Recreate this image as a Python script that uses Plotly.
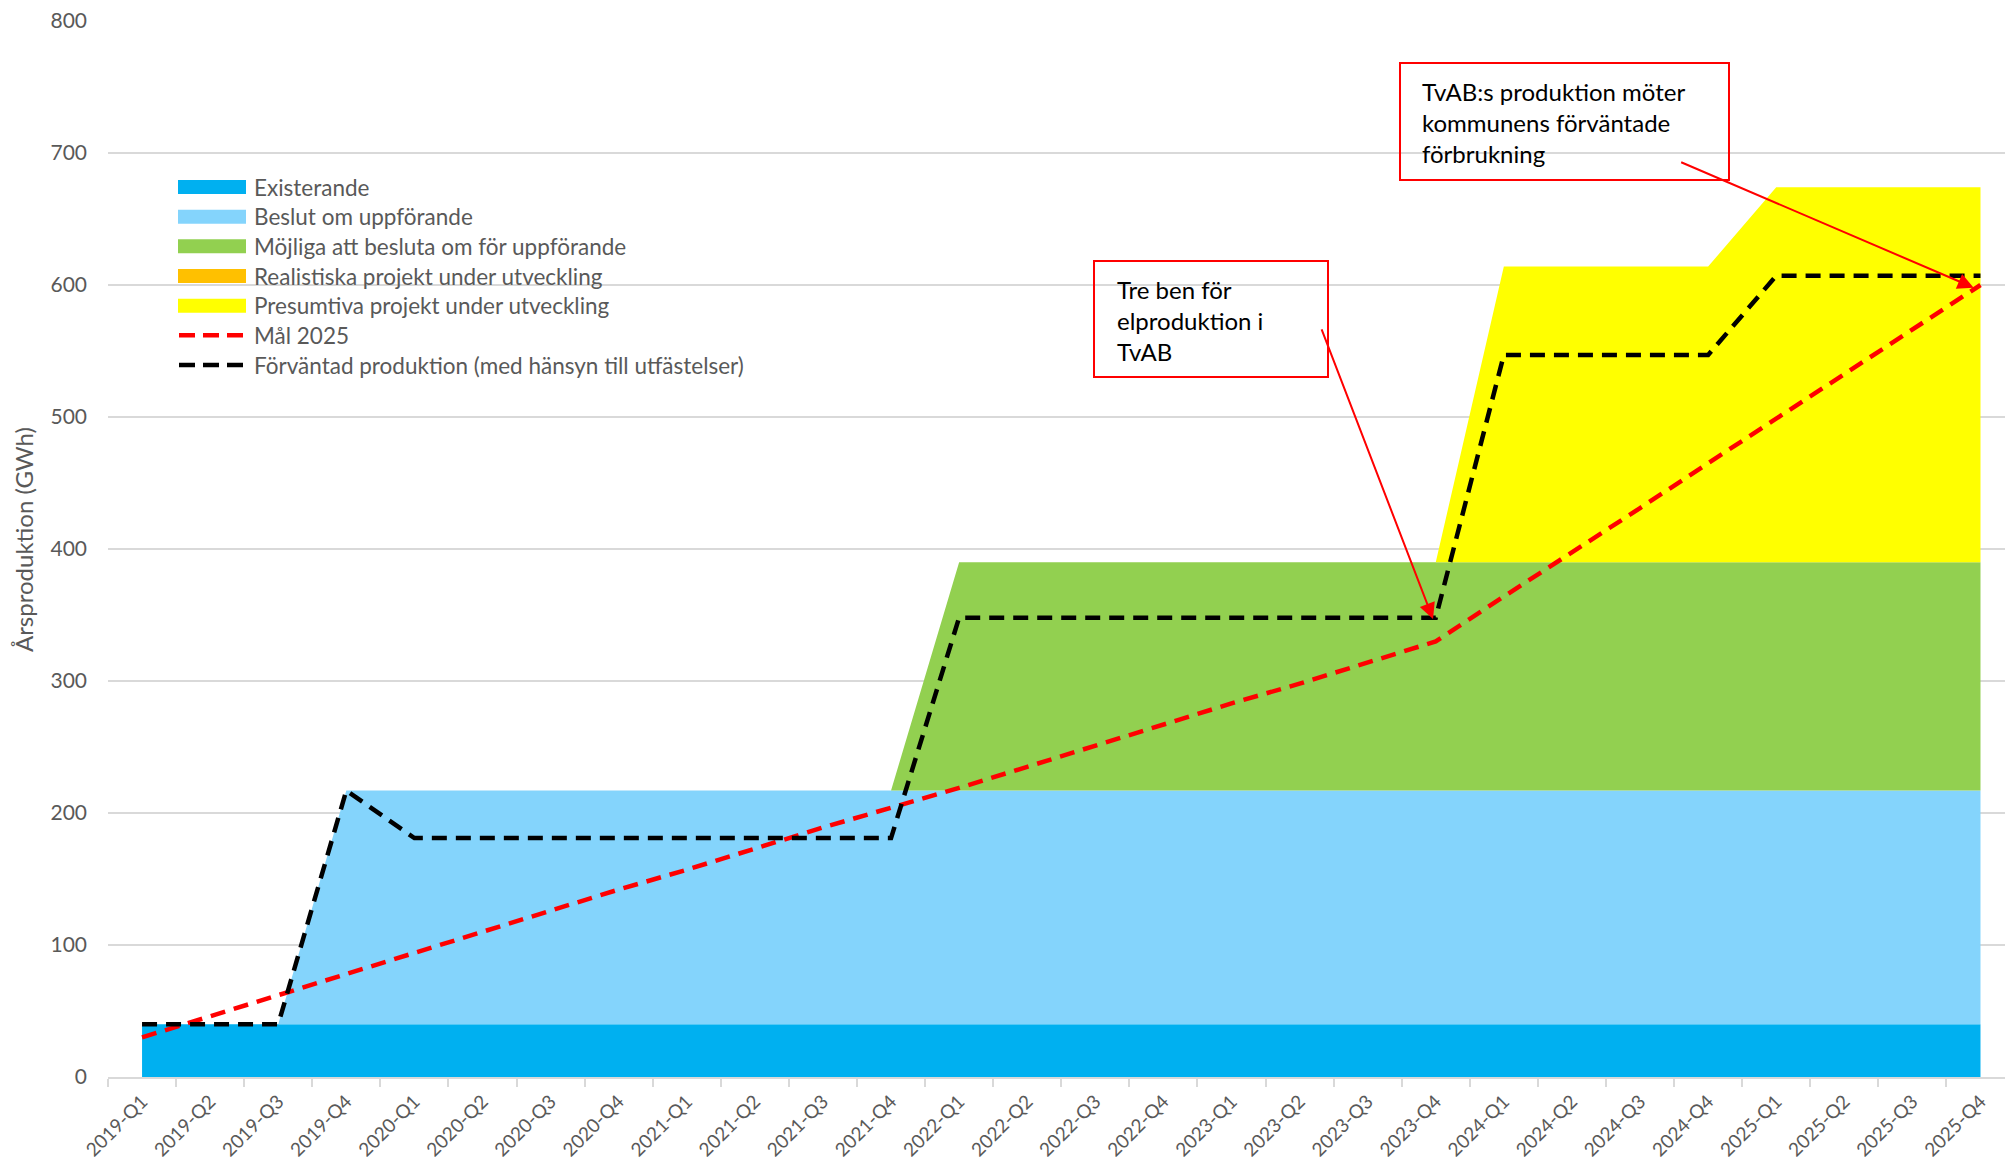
import plotly.graph_objects as go

quarters = ["2019-Q1", "2019-Q2", "2019-Q3", "2019-Q4",
            "2020-Q1", "2020-Q2", "2020-Q3", "2020-Q4",
            "2021-Q1", "2021-Q2", "2021-Q3", "2021-Q4",
            "2022-Q1", "2022-Q2", "2022-Q3", "2022-Q4",
            "2023-Q1", "2023-Q2", "2023-Q3", "2023-Q4",
            "2024-Q1", "2024-Q2", "2024-Q3", "2024-Q4",
            "2025-Q1", "2025-Q2", "2025-Q3", "2025-Q4"]

existerande = [40] * 28
beslut = [0, 0, 0, 177, 177, 177, 177, 177, 177, 177, 177, 177, 177, 177,
          177, 177, 177, 177, 177, 177, 177, 177, 177, 177, 177, 177, 177, 177]
mojliga = [0, 0, 0, 0, 0, 0, 0, 0, 0, 0, 0, 0, 173, 173,
           173, 173, 173, 173, 173, 173, 173, 173, 173, 173, 173, 173, 173, 173]
realistiska = [0] * 28
presumtiva = [0, 0, 0, 0, 0, 0, 0, 0, 0, 0, 0, 0, 0, 0,
              0, 0, 0, 0, 0, 0, 224, 224, 224, 224, 284, 284, 284, 284]
mal_2025 = [30, 46, 62, 78, 94, 110, 126, 142, 157, 173, 189, 204, 219, 235,
            251, 267, 283, 298, 314, 330, 364, 397, 431, 465, 499, 532, 566, 600]
forvantad = [40, 40, 40, 217, 181, 181, 181, 181, 181, 181, 181, 181, 348, 348,
             348, 348, 348, 348, 348, 348, 547, 547, 547, 547, 607, 607, 607, 607]

area_names = ["Existerande", "Beslut om uppförande", "Möjliga att besluta om för uppförande",
              "Realistiska projekt under utveckling", "Presumtiva projekt under utveckling"]
area_colors = ["#00B0F0", "#84D4FC", "#92D050", "#FFC000", "#FFFF00"]
line_names = ["Mål 2025", "Förväntad produktion (med hänsyn till utfästelser)"]
line_colors = ["#FF0000", "#000000"]

FONT = "Lato"
GREY = "#595959"
DASH = "15px,9px"

fig = go.Figure()
for name, vals, col in zip(area_names, [existerande, beslut, mojliga, realistiska, presumtiva], area_colors):
    fig.add_trace(go.Scatter(x=quarters, y=vals, name=name, mode="lines", stackgroup="one",
                             fillcolor=col, line=dict(width=0, color=col), showlegend=False,
                             hoverinfo="x+y+name"))
for name, vals, col in zip(line_names, [mal_2025, forvantad], line_colors):
    fig.add_trace(go.Scatter(x=quarters, y=vals, name=name, mode="lines",
                             line=dict(color=col, width=4.5, dash=DASH), showlegend=False))

# pixel -> paper helpers (plot area: x 108..2005, y 21..1077)
L, R, T, B = 108, 2005, 21, 1077
def px(x):
    return (x - L) / (R - L)
def py(y):
    return (B - y) / (B - T)

shapes = []
annotations = []

# manual legend
rows = [187, 216.7, 246.3, 276, 305.7, 335.3, 365]
for i, (name, col) in enumerate(zip(area_names, area_colors)):
    y = rows[i]
    shapes.append(dict(type="rect", xref="paper", yref="paper", x0=px(178), x1=px(246),
                       y0=py(y + 7), y1=py(y - 7), fillcolor=col, line=dict(width=0)))
for j, (name, col) in enumerate(zip(line_names, line_colors)):
    y = rows[5 + j]
    shapes.append(dict(type="line", xref="paper", yref="paper", x0=px(179), x1=px(243),
                       y0=py(y), y1=py(y), line=dict(color=col, width=4.5, dash="16px,8px")))
for i, name in enumerate(area_names + line_names):
    annotations.append(dict(xref="paper", yref="paper", x=px(252), y=py(rows[i]), text=name,
                            showarrow=False, xanchor="left", yanchor="middle",
                            font=dict(family=FONT, size=22.5, color=GREY)))

# callout boxes
shapes.append(dict(type="rect", xref="paper", yref="paper", x0=px(1094), x1=px(1328),
                   y0=py(377), y1=py(261), line=dict(color="#FF0000", width=2)))
shapes.append(dict(type="rect", xref="paper", yref="paper", x0=px(1400), x1=px(1729),
                   y0=py(180), y1=py(63), line=dict(color="#FF0000", width=2)))
annotations.append(dict(xref="paper", yref="paper", x=px(1115), y=py(320),
                        text="Tre ben för<br>elproduktion i<br>TvAB", showarrow=False,
                        xanchor="left", yanchor="middle", align="left",
                        font=dict(family=FONT, size=24, color="#000000")))
annotations.append(dict(xref="paper", yref="paper", x=px(1420), y=py(122),
                        text="TvAB:s produktion möter<br>kommunens förväntade<br>förbrukning",
                        showarrow=False, xanchor="left", yanchor="middle", align="left",
                        font=dict(family=FONT, size=24, color="#000000")))
# arrows
annotations.append(dict(x=18.96, y=347, xref="x", yref="y", text="", showarrow=True,
                        ax=-112, ay=-291, arrowcolor="#FF0000", arrowwidth=2,
                        arrowhead=2, arrowsize=1.6, standoff=0))
annotations.append(dict(x=26.9, y=598, xref="x", yref="y", text="", showarrow=True,
                        ax=-294, ay=-126, arrowcolor="#FF0000", arrowwidth=2,
                        arrowhead=2, arrowsize=1.6, standoff=0))
# y title
annotations.append(dict(xref="paper", yref="paper", x=px(23), y=py(540), text="Årsproduktion (GWh)",
                        textangle=-90, showarrow=False, xanchor="center", yanchor="middle",
                        font=dict(family=FONT, size=24, color=GREY)))

fig.update_layout(
    width=2005, height=1170,
    margin=dict(l=L, r=0, t=T, b=1170 - B, autoexpand=False),
    paper_bgcolor="white", plot_bgcolor="white",
    showlegend=False,
    shapes=shapes, annotations=annotations,
    font=dict(family=FONT, color=GREY),
    xaxis=dict(type="category", categoryorder="array", categoryarray=quarters,
               range=[-0.5, 27.36], tickson="boundaries", ticks="outside", ticklen=8,
               tickcolor="#D9D9D9", tickwidth=1.5, showline=True, linecolor="#D9D9D9",
               linewidth=2, showgrid=False, tickangle=-45, ticklabelstandoff=4,
               tickfont=dict(family=FONT, size=19, color=GREY)),
    yaxis=dict(range=[0, 800], dtick=100, showgrid=True, gridcolor="#D9D9D9", gridwidth=1.5,
               showline=False, zeroline=False, ticks="", ticklabelstandoff=20,
               tickfont=dict(family=FONT, size=21, color=GREY)),
)

fig.write_html("out.html")
